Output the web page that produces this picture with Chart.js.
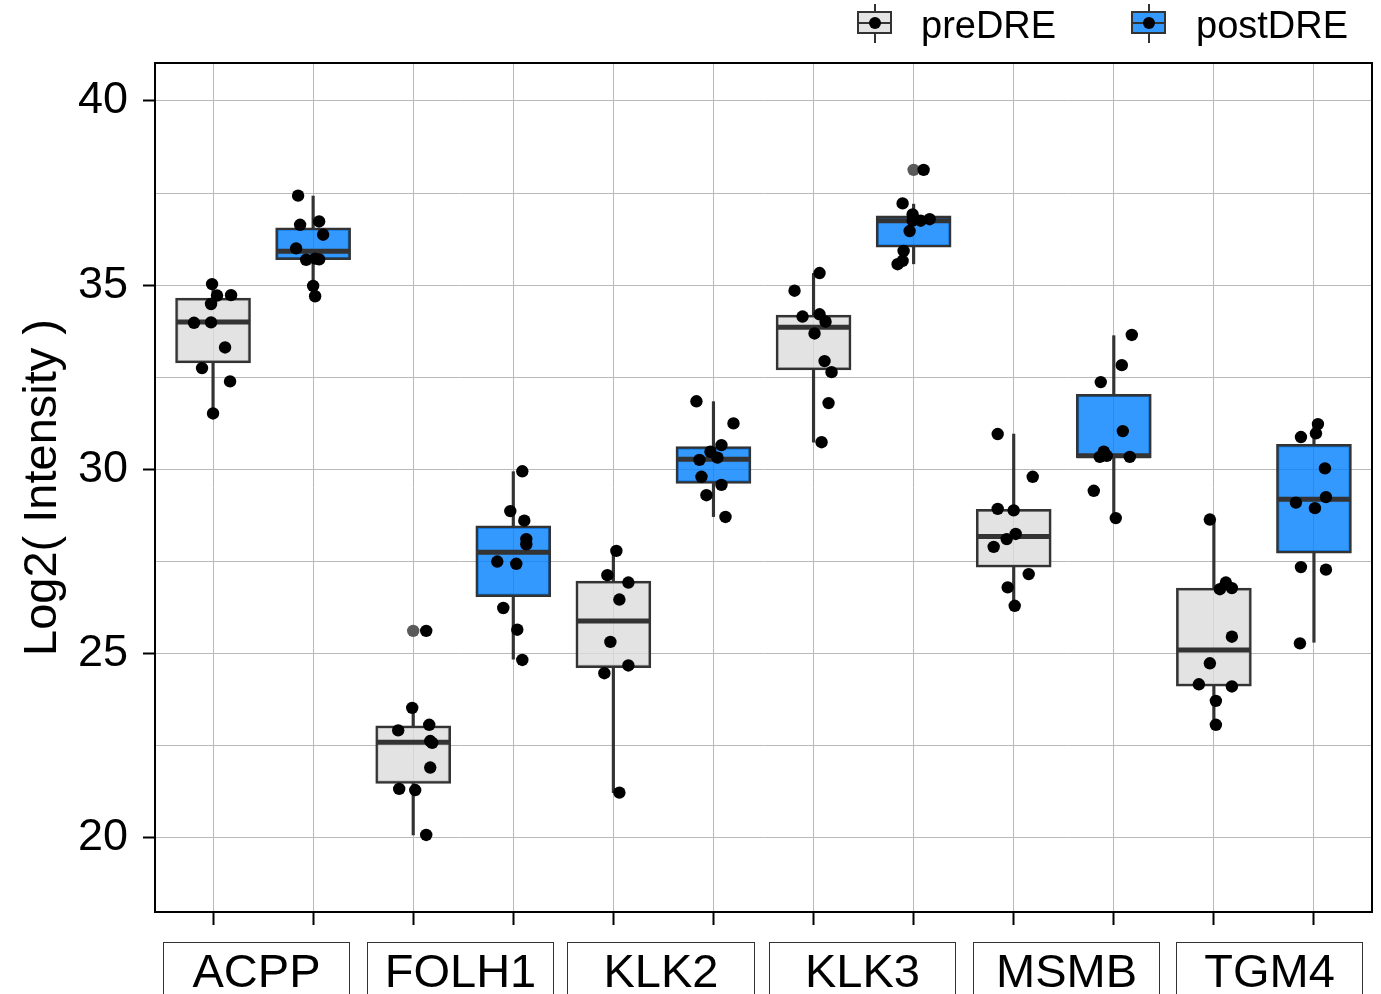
<!DOCTYPE html>
<html>
<head>
<meta charset="utf-8">
<script src="https://cdn.jsdelivr.net/npm/chart.js@4/dist/chart.umd.min.js"></script>
<style>
html,body{margin:0;padding:0;background:#fff;overflow:hidden;}
#wrap{position:relative;width:1381px;height:994px;overflow:hidden;font-family:"Liberation Sans",Arial,Helvetica,sans-serif;color:#000;}
#c{position:absolute;left:0;top:0;}
.strip{position:absolute;top:942px;height:90px;box-sizing:border-box;border:1.5px solid #333;background:#fff;}
.strip span{position:absolute;left:0;right:0;top:3.7px;text-align:center;font-size:47px;line-height:47px;white-space:nowrap;}
.leg{position:absolute;top:0;height:50px;}
.leg .icon{position:absolute;left:0;top:4px;width:35px;height:39px;}
.leg .wh{position:absolute;left:16.5px;width:2px;background:#333;}
.leg .bx{position:absolute;left:0;top:7px;width:35px;height:23px;box-sizing:border-box;border:2px solid #333;}
.leg .md{position:absolute;left:0;top:18px;width:35px;height:2px;background:#333;}
.leg .dot{position:absolute;left:11.5px;top:13px;width:12px;height:12px;border-radius:50%;background:#000;}
.leg .txt{position:absolute;top:6.4px;font-size:38px;line-height:38px;white-space:nowrap;}
</style>
</head>
<body>
<div id="wrap">
  <canvas id="c" width="1381" height="994"></canvas>
  <div id="legend"></div>
  <div id="strips"></div>
</div>
<script>
// ---------------- data ----------------
const genes = ['ACPP', 'FOLH1', 'KLK2', 'KLK3', 'MSMB', 'TGM4'];
const groups = ['preDRE', 'postDRE'];
const yMajorTicks = [20, 25, 30, 35, 40];
const yMinorTicks = [22.5, 27.5, 32.5, 37.5];

// preDRE box statistics
const preWhiskerLow  = [31.52, 20.08, 21.23, 30.74, 26.30, 23.07];
const preQ1          = [32.89, 21.48, 24.62, 32.70, 27.35, 24.12];
const preMedian      = [34.00, 22.60, 25.89, 33.86, 28.18, 25.10];
const preQ3          = [34.65, 23.04, 26.97, 34.19, 28.92, 26.78];
const preWhiskerHigh = [35.03, 23.53, 27.79, 35.32, 30.96, 28.63];
const preOutliers    = [[], [25.62], [], [], [], []];

// postDRE box statistics
const postWhiskerLow  = [34.69, 24.85, 28.72, 35.58, 28.68, 25.31];
const postQ1          = [35.69, 26.55, 29.62, 36.03, 30.32, 27.73];
const postMedian      = [35.92, 27.75, 30.28, 36.75, 30.37, 29.19];
const postQ3          = [36.56, 28.47, 30.62, 36.88, 32.04, 30.68];
const postWhiskerHigh = [37.42, 29.94, 31.84, 37.20, 33.63, 31.22];
const postOutliers    = [[], [], [], [38.13], [], []];

// individual samples (values) and their horizontal jitter (in category units)
const prePoints = [
  [35.03, 34.72, 34.73, 34.49, 33.98, 33.99, 33.31, 32.75, 32.39, 31.52],
  [25.62, 23.53, 22.92, 23.07, 22.63, 22.58, 21.91, 21.33, 21.30, 20.08],
  [27.79, 27.13, 26.93, 26.47, 25.32, 24.68, 24.47, 21.23],
  [35.33, 34.85, 34.15, 34.21, 34.01, 33.69, 32.94, 32.64, 31.80, 30.74],
  [30.96, 29.80, 28.93, 28.89, 28.25, 28.11, 27.90, 27.16, 26.80, 26.30],
  [28.64, 26.93, 26.75, 26.78, 25.46, 24.74, 24.17, 24.11, 23.72, 23.07]
];
const preJitter = [
  [-0.01, 0.04, 0.18, -0.02, -0.19, -0.02, 0.12, -0.11, 0.17, 0.00],
  [0.13, -0.01, -0.15, 0.16, 0.17, 0.19, 0.17, -0.14, 0.02, 0.13],
  [0.03, -0.06, 0.15, 0.06, -0.03, 0.15, -0.09, 0.06],
  [0.06, -0.19, -0.11, 0.06, 0.12, 0.01, 0.11, 0.18, 0.15, 0.08],
  [-0.16, 0.19, -0.16, 0.00, 0.02, -0.07, -0.20, 0.15, -0.06, 0.01],
  [-0.04, 0.12, 0.06, 0.18, 0.18, -0.04, -0.15, 0.18, 0.02, 0.02]
];
const postPoints = [
  [37.43, 36.64, 36.73, 36.37, 36.00, 35.69, 35.72, 35.70, 34.98, 34.70],
  [29.95, 28.87, 28.61, 28.11, 27.97, 27.50, 27.44, 26.24, 25.65, 24.83],
  [31.85, 31.25, 30.66, 30.48, 30.32, 30.26, 29.80, 29.58, 29.30, 28.71],
  [38.13, 37.22, 36.92, 36.75, 36.79, 36.75, 36.47, 35.93, 35.66, 35.57],
  [33.65, 32.83, 32.37, 31.04, 30.48, 30.34, 30.37, 30.34, 29.42, 28.68],
  [31.23, 30.98, 30.88, 30.03, 29.25, 29.10, 28.95, 27.35, 27.28, 25.28]
];
const postJitter = [
  [-0.15, -0.13, 0.06, 0.10, -0.17, -0.07, 0.02, 0.06, 0.00, 0.02],
  [0.09, -0.03, 0.11, 0.13, 0.13, -0.16, 0.03, -0.10, 0.04, 0.09],
  [-0.17, 0.20, 0.08, -0.03, 0.04, -0.14, -0.12, 0.08, -0.07, 0.12],
  [0.10, -0.11, -0.01, 0.07, 0.16, -0.01, -0.04, -0.10, -0.11, -0.16],
  [0.18, 0.08, -0.13, 0.09, -0.10, -0.14, -0.07, 0.16, -0.20, 0.02],
  [0.04, 0.02, -0.13, 0.11, 0.12, -0.18, 0.01, -0.13, 0.12, -0.14]
];

// ---------------- styling ----------------
const FONT = '"Liberation Sans", Arial, Helvetica, sans-serif';
const preFill = 'rgba(220,220,220,0.8)';
const postFill = 'rgba(0,128,255,0.8)';
const lineCol = '#333333';
const gridCol = '#b9b9b9';

// category positions on the linear x axis
const xPre = genes.map((g, i) => 2 * i + 1);
const xPost = genes.map((g, i) => 2 * i + 2);
const xAll = xPre.concat(xPost).sort((a, b) => a - b);

// ---------------- builders ----------------
const boxData = (xs, lo, hi) => xs.map((x, i) => ({x: x, y: [lo[i], hi[i]]}));
const medData = (xs, m) => xs.map((x, i) => ({x: x, y: m[i]}));
function pointData(xs, vals, jit) {
  const out = [];
  xs.forEach((x, i) => vals[i].forEach((v, k) => out.push({x: x + jit[i][k], y: v})));
  return out;
}
function outData(xs, outs) {
  const out = [];
  xs.forEach((x, i) => outs[i].forEach(v => out.push({x: x, y: v})));
  return out;
}

const whiskerBase = {type: 'bar', grouped: false, barThickness: 2.5, backgroundColor: lineCol, borderWidth: 0, order: 10};
const boxBase = {type: 'bar', grouped: false, barThickness: 75, borderColor: lineCol, borderWidth: 2.5, borderSkipped: false, order: 8};

const datasets = [
  Object.assign({label: 'preWhiskLow',  data: boxData(xPre, preWhiskerLow, preQ1)}, whiskerBase),
  Object.assign({label: 'preWhiskHigh', data: boxData(xPre, preQ3, preWhiskerHigh)}, whiskerBase),
  Object.assign({label: 'postWhiskLow', data: boxData(xPost, postWhiskerLow, postQ1)}, whiskerBase),
  Object.assign({label: 'postWhiskHigh',data: boxData(xPost, postQ3, postWhiskerHigh)}, whiskerBase),
  Object.assign({label: groups[0], data: boxData(xPre, preQ1, preQ3), backgroundColor: preFill}, boxBase),
  Object.assign({label: groups[1], data: boxData(xPost, postQ1, postQ3), backgroundColor: postFill}, boxBase),
  {type: 'scatter', label: 'medians', data: medData(xPre, preMedian).concat(medData(xPost, postMedian)),
   pointStyle: 'line', pointRadius: 37, pointHoverRadius: 37, pointBorderColor: lineCol, pointBorderWidth: 5, order: 6},
  {type: 'scatter', label: 'outliers', data: outData(xPre, preOutliers).concat(outData(xPost, postOutliers)),
   pointRadius: 6.2, pointHoverRadius: 6.2, pointBackgroundColor: '#5a5a5a', pointBorderWidth: 0, order: 4},
  {type: 'scatter', label: 'prePoints', data: pointData(xPre, prePoints, preJitter),
   pointRadius: 6.2, pointHoverRadius: 6.2, pointBackgroundColor: '#000', pointBorderWidth: 0, order: 2},
  {type: 'scatter', label: 'postPoints', data: pointData(xPost, postPoints, postJitter),
   pointRadius: 6.2, pointHoverRadius: 6.2, pointBackgroundColor: '#000', pointBorderWidth: 0, order: 1}
];

const panelBorder = {
  id: 'panelBorder',
  afterDatasetsDraw(chart) {
    const {ctx, chartArea: a} = chart;
    ctx.save();
    ctx.strokeStyle = '#000';
    ctx.lineWidth = 2;
    ctx.strokeRect(a.left, a.top, a.right - a.left, a.bottom - a.top);
    ctx.restore();
  }
};

new Chart(document.getElementById('c'), {
  type: 'scatter',
  data: {datasets: datasets},
  plugins: [panelBorder],
  options: {
    responsive: false,
    animation: false,
    events: [],
    layout: {autoPadding: false, padding: {top: 63, right: 9, left: 0, bottom: 0}},
    plugins: {legend: {display: false}, tooltip: {enabled: false}, title: {display: false}},
    scales: {
      x: {
        type: 'linear', min: 0.42, max: 12.58, offset: false,
        afterBuildTicks: s => { s.ticks = xAll.map(v => ({value: v})); },
        afterFit: s => { s.height = 82; s.paddingLeft = 0; s.paddingRight = 0; },
        ticks: {callback: () => '', autoSkip: false, maxRotation: 0, padding: 0, font: {size: 1}},
        grid: {color: gridCol, lineWidth: 1, drawTicks: true, tickLength: 13, tickColor: '#000', tickWidth: 2, offset: false},
        border: {display: false}
      },
      y: {
        type: 'linear', min: 17.99, max: 41.03,
        afterBuildTicks: s => { s.ticks = yMajorTicks.concat(yMinorTicks).sort((a, b) => a - b).map(v => ({value: v})); },
        afterFit: s => { s.width = 155; s.paddingTop = 0; s.paddingBottom = 0; },
        ticks: {
          callback: v => yMajorTicks.includes(v) ? String(v) : '',
          autoSkip: false, color: '#000', padding: 15,
          font: {family: FONT, size: 45}
        },
        grid: {
          color: gridCol, lineWidth: 1, drawTicks: true, tickLength: 12, tickWidth: 2,
          tickColor: ctx => (ctx.tick && yMajorTicks.includes(ctx.tick.value)) ? '#000' : 'rgba(0,0,0,0)'
        },
        border: {display: false},
        title: {display: true, text: 'Log2( Intensity )', color: '#000',
                font: {family: FONT, size: 47, lineHeight: 1.2}, padding: {top: 15, bottom: 0}}
      }
    }
  }
});

// ---------------- legend (HTML) ----------------
const legendSpecs = [
  {name: groups[0], fill: preFill, left: 857, textLeft: 64},
  {name: groups[1], fill: postFill, left: 1131, textLeft: 65}
];
const legend = document.getElementById('legend');
legendSpecs.forEach(s => {
  const d = document.createElement('div');
  d.className = 'leg';
  d.style.left = s.left + 'px';
  d.innerHTML =
    '<div class="icon">' +
      '<div class="wh" style="top:0;height:8px"></div>' +
      '<div class="wh" style="top:29px;height:10px"></div>' +
      '<div class="bx" style="background:' + s.fill + '"></div>' +
      '<div class="md"></div>' +
      '<div class="dot"></div>' +
    '</div>' +
    '<div class="txt" style="left:' + s.textLeft + 'px">' + s.name + '</div>';
  legend.appendChild(d);
});

// ---------------- facet strips (HTML) ----------------
const stripEdges = [[163, 350], [367, 554], [567, 755], [769, 956], [973, 1160], [1176, 1363]];
const strips = document.getElementById('strips');
genes.forEach((g, i) => {
  const d = document.createElement('div');
  d.className = 'strip';
  d.style.left = stripEdges[i][0] + 'px';
  d.style.width = (stripEdges[i][1] - stripEdges[i][0]) + 'px';
  d.innerHTML = '<span>' + g + '</span>';
  strips.appendChild(d);
});
</script>
</body>
</html>
